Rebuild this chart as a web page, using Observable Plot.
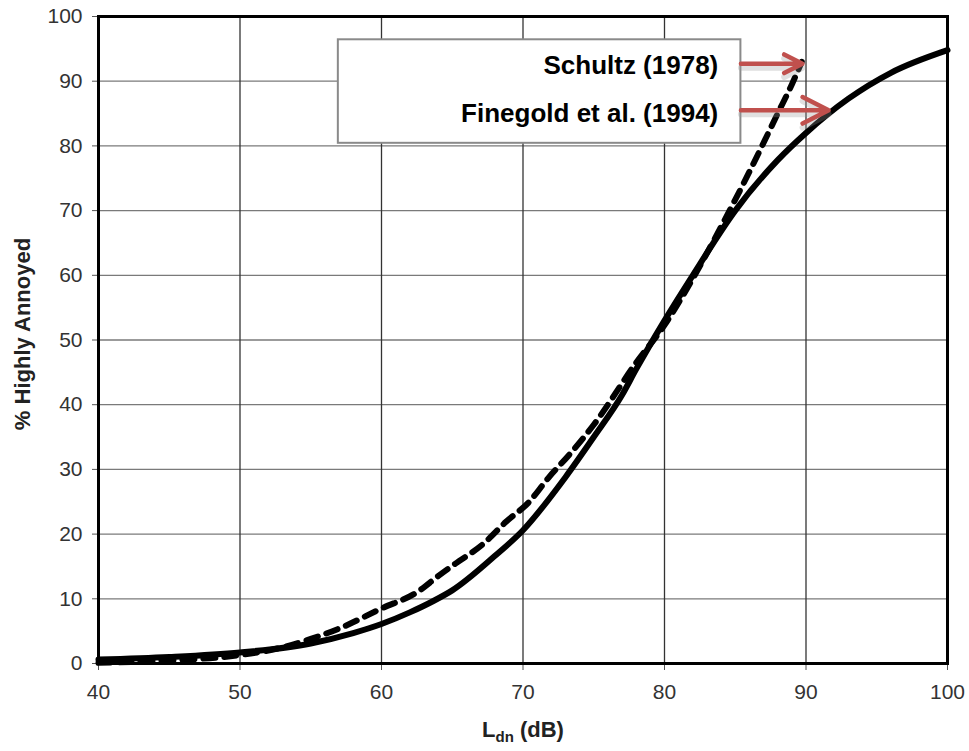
<!DOCTYPE html>
<html>
<head>
<meta charset="utf-8">
<script src="https://cdn.jsdelivr.net/npm/d3@7"></script>
<script src="https://cdn.jsdelivr.net/npm/@observablehq/plot@0.6"></script>
<style>
  html, body { margin: 0; padding: 0; background: #fff; }
  #chart { width: 969px; height: 751px; }
  svg text { font-family: "Liberation Sans", Arial, sans-serif; }
</style>
</head>
<body>
<div id="chart"></div>
<script>
// Finegold et al. (1994) — solid curve
const finegoldL = [40, 45, 50, 55, 58, 60, 62, 63.7, 65, 68, 70, 73, 75, 77, 78, 80, 82, 85, 88, 90, 93, 96, 100];
const finegoldHA = [0.6, 1.0, 1.7, 3.1, 4.7, 6.1, 7.9, 9.7, 11.3, 16.6, 20.6, 28.8, 35.0, 41.5, 45.5, 53.0, 60.0, 70.0, 77.8, 82.0, 87.3, 91.3, 94.8];

// Schultz (1978) — dashed curve
const schultzL = [40, 45, 50, 53, 55, 57, 60, 62.5, 64, 65.2, 67.2, 68.8, 70.4, 71.8, 73.4, 75, 78, 80, 82, 84, 86, 88, 89, 89.7];
const schultzHA = [0.1, 0.5, 1.3, 2.5, 3.8, 5.4, 8.5, 11.0, 13.5, 15.4, 18.5, 21.9, 24.9, 28.7, 32.6, 36.9, 46.5, 52.3, 59.5, 67.5, 76.0, 85.0, 89.5, 93.0];

const xTicks = [40, 50, 60, 70, 80, 90, 100];
const yTicks = [0, 10, 20, 30, 40, 50, 60, 70, 80, 90, 100];

// Legend annotation (in data units)
const legendLabels = ["Schultz (1978)", "Finegold et al. (1994)"];
const legendTextX = [83.8, 83.8];
const legendTextY = [92.4, 85.0];
const arrowStartX = [85.4, 85.4];
const arrowEndX = [89.75, 91.6];
const arrowY = [92.7, 85.5];
const legendBox = {x1: 56.95, x2: 85.4, y1: 80.4, y2: 96.4};

const fin = finegoldL.map((x, i) => ({x, y: finegoldHA[i]}));
const sch = schultzL.map((x, i) => ({x, y: schultzHA[i]}));
const legend = legendLabels.map((t, i) => ({t, x: legendTextX[i], y: legendTextY[i], x1: arrowStartX[i], x2: arrowEndX[i], ay: arrowY[i]}));

const chart = Plot.plot({
  width: 969,
  height: 751,
  marginLeft: 98,
  marginRight: 22,
  marginTop: 16,
  marginBottom: 88,
  x: {domain: [40, 100]},
  y: {domain: [0, 100]},
  style: {fontFamily: "Liberation Sans, Arial, sans-serif", background: "#fff"},
  marks: [
    Plot.gridY(yTicks, {stroke: "#7a7a7a", strokeOpacity: 1, strokeWidth: 1.3}),
    Plot.gridX(xTicks, {stroke: "#333", strokeOpacity: 1, strokeWidth: 1.3}),
    Plot.axisY(yTicks, {tickSize: 6, tickPadding: 10, fontSize: 21, stroke: "#555", fill: "#333", label: null}),
    Plot.axisX(xTicks, {tickSize: 7, tickPadding: 14, fontSize: 21, stroke: "#555", fill: "#333", label: null}),
    Plot.line(fin, {x: "x", y: "y", stroke: "#000", strokeWidth: 6, curve: "monotone-x"}),
    Plot.line(sch, {x: "x", y: "y", stroke: "#000", strokeWidth: 6, strokeDasharray: "12,9", curve: "monotone-x"}),
    Plot.frame({stroke: "#000", strokeWidth: 3}),
    Plot.rect([legendBox], {x1: "x1", x2: "x2", y1: "y1", y2: "y2", fill: "#fff", stroke: "#8a8a8a", strokeWidth: 2}),
    Plot.text(legend, {x: "x", y: "y", text: "t", textAnchor: "end", fontSize: 26, fontWeight: "bold", fill: "#000"}),
    Plot.arrow(legend, {x1: "x1", x2: "x2", y1: "ay", y2: "ay", stroke: "#999", strokeOpacity: 0.3, strokeWidth: 6, dy: 4, headLength: 25, headAngle: 54}),
    Plot.arrow(legend, {x1: "x1", x2: "x2", y1: "ay", y2: "ay", stroke: "#c0504d", strokeWidth: 4.5, headLength: 25, headAngle: 54}),
    Plot.text(["% Highly Annoyed"], {frameAnchor: "left", textAnchor: "middle", rotate: -90, dx: -76, dy: -6, fontSize: 22, fontWeight: "bold", fill: "#222"}),
    Plot.text(["Ldn (dB)"], {frameAnchor: "bottom", dy: 73, fontSize: 22, fontWeight: "bold", fill: "#222"})
  ]
});

document.getElementById("chart").appendChild(chart);

// Subscript "dn" in the x-axis label
d3.select(chart).selectAll("text").filter(function() { return this.textContent === "Ldn (dB)"; })
  .each(function() {
    const t = d3.select(this);
    t.text(null);
    t.append("tspan").text("L");
    t.append("tspan").attr("font-size", 15).attr("dy", 5).text("dn");
    t.append("tspan").attr("dy", -5).text(" (dB)");
  });
</script>
</body>
</html>
